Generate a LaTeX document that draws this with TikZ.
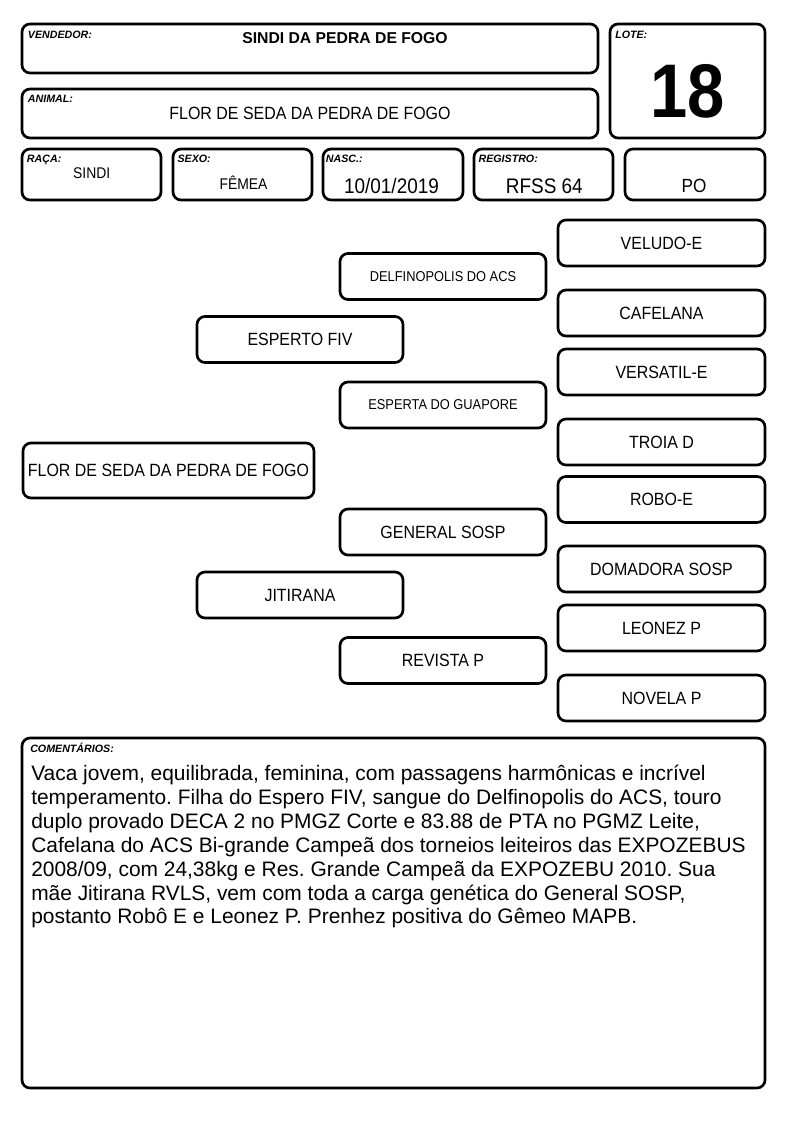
\documentclass[tikz,border=0pt]{standalone}
\usepackage{fontspec}
\setmainfont{Liberation Sans}
\newfontfamily\nar[FakeStretch=0.9]{Liberation Sans}
\newfontfamily\narb[FakeStretch=0.88]{Liberation Sans}
\begin{document}
\begin{tikzpicture}[x=0.75pt,y=-0.75pt,
  frame/.style={draw, line width=2pt, rounded corners=6pt, inner sep=0pt},
  ped/.style={frame, minimum width=206*0.75pt, minimum height=46*0.75pt,
    font=\nar\fontsize{13.3}{15}\selectfont},
  pedsmall/.style={ped, font=\nar\fontsize{10.7}{12}\selectfont},
  lab/.style={anchor=base west, inner sep=0pt, font=\bfseries\itshape\fontsize{8}{9}\selectfont},
  val/.style={anchor=base, inner sep=0pt, font=\nar\fontsize{11.6}{13}\selectfont},
  bigval/.style={anchor=base, inner sep=0pt, font=\nar\fontsize{15.8}{18}\selectfont}]
\useasboundingbox (0,0) rectangle (794,1123);

% header boxes
\node[frame, minimum width=576*0.75pt, minimum height=49*0.75pt] (vend) at (310,48.5) {};
\node[frame, minimum width=155*0.75pt, minimum height=114*0.75pt] (lote) at (687.5,81) {};
\node[frame, minimum width=576*0.75pt, minimum height=49*0.75pt] (animal) at (310,113.5) {};
\node[frame, minimum width=139*0.75pt, minimum height=51*0.75pt] (raca) at (91.5,174.5) {};
\node[frame, minimum width=139*0.75pt, minimum height=51*0.75pt] (sexo) at (242.5,174.5) {};
\node[frame, minimum width=140*0.75pt, minimum height=51*0.75pt] (nasc) at (393,174.5) {};
\node[frame, minimum width=139*0.75pt, minimum height=51*0.75pt] (reg) at (543.5,174.5) {};
\node[frame, minimum width=140*0.75pt, minimum height=51*0.75pt] (po) at (695,174.5) {};

\node[lab] (vendlab) at (27.7,39) {VENDEDOR:};
\node[anchor=base, inner sep=0pt, font=\bfseries\fontsize{11.8}{13}\selectfont] (vendval) at (345,43.3) {SINDI DA PEDRA DE FOGO};
\node[lab] (lotelab) at (615,39) {LOTE:};
\node[anchor=base, inner sep=0pt, font=\narb\bfseries\fontsize{57}{60}\selectfont] (loteval) at (687.5,118) {18};
\node[lab] (animallab) at (27.7,102.7) {ANIMAL:};
\node[anchor=base, inner sep=0pt, font=\nar\fontsize{13.3}{15}\selectfont] (animalval) at (310,119.3) {FLOR DE SEDA DA PEDRA DE FOGO};
\node[lab] (racalab) at (26.7,163) {RAÇA:};
\node[val] (racaval) at (91.7,178.3) {SINDI};
\node[lab] (sexolab) at (177.3,163) {SEXO:};
\node[val] (sexoval) at (243.5,189.3) {FÊMEA};
\node[lab] (nasclab) at (325.7,163) {NASC.:};
\node[bigval] (nascval) at (391.5,193.3) {10/01/2019};
\node[lab] (reglab) at (478.3,163) {REGISTRO:};
\node[bigval] (regval) at (544.3,193.3) {RFSS 64};
\node[anchor=base, inner sep=0pt, font=\nar\fontsize{14.3}{16}\selectfont] (poval) at (694,192.7) {PO};

% pedigree
\node[frame, minimum width=291*0.75pt, minimum height=55*0.75pt, font=\nar\fontsize{13.3}{15}\selectfont] (flor) at (168.5,470.5) {FLOR DE SEDA DA PEDRA DE FOGO};
\node[ped] (esperto) at (300,339.5) {ESPERTO FIV};
\node[ped] (jitirana) at (300,595) {JITIRANA};
\node[pedsmall] (delf) at (443,276.5) {DELFINOPOLIS DO ACS};
\node[pedsmall] (esperta) at (443,405) {ESPERTA DO GUAPORE};
\node[ped] (general) at (443,532) {GENERAL SOSP};
\node[ped] (revista) at (443,660.5) {REVISTA P};
\node[ped, minimum width=207*0.75pt] (veludo) at (661.5,243) {VELUDO-E};
\node[ped, minimum width=207*0.75pt] (cafelana) at (661.5,313) {CAFELANA};
\node[ped, minimum width=207*0.75pt] (versatil) at (661.5,372) {VERSATIL-E};
\node[ped, minimum width=207*0.75pt] (troia) at (661.5,442) {TROIA D};
\node[ped, minimum width=207*0.75pt] (robo) at (661.5,499.5) {ROBO-E};
\node[ped, minimum width=207*0.75pt] (domadora) at (661.5,569) {DOMADORA SOSP};
\node[ped, minimum width=207*0.75pt] (leonez) at (661.5,628) {LEONEZ P};
\node[ped, minimum width=207*0.75pt] (novela) at (661.5,698) {NOVELA P};

% comments
\node[frame, minimum width=743*0.75pt, minimum height=350*0.75pt] (coment) at (393.5,913) {};
\node[lab] (comentlab) at (30,752.7) {COMENTÁRIOS:};
\node[anchor=base west, inner sep=0pt] (comenttxt) at (31,780.7) {\parbox[t]{570pt}{\raggedright\frenchspacing\fontsize{15.7}{17.9}\selectfont
Vaca jovem, equilibrada, feminina, com passagens harmônicas e incrível\\
temperamento. Filha do Espero FIV, sangue do Delfinopolis do ACS, touro\\
duplo provado DECA 2 no PMGZ Corte e 83.88 de PTA no PGMZ Leite,\\
Cafelana do ACS Bi-grande Campeã dos torneios leiteiros das EXPOZEBUS\\
2008/09, com 24,38kg e Res. Grande Campeã da EXPOZEBU 2010. Sua\\
mãe Jitirana RVLS, vem com toda a carga genética do General SOSP,\\
postanto Robô E e Leonez P. Prenhez positiva do Gêmeo MAPB.}};
\end{tikzpicture}
\end{document}
